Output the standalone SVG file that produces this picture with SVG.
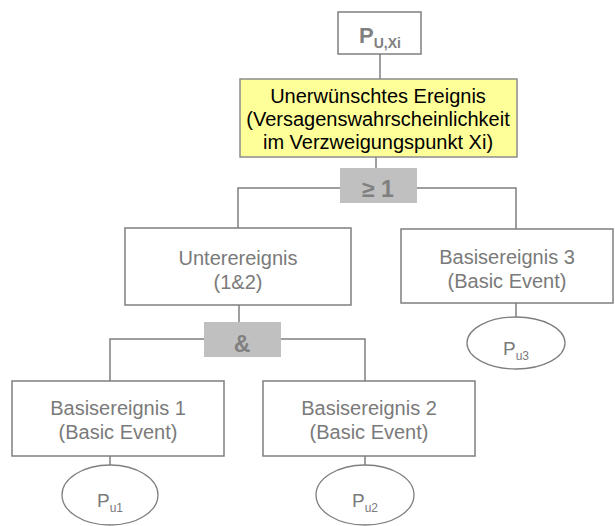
<svg xmlns="http://www.w3.org/2000/svg" width="615" height="526" viewBox="0 0 615 526">
<style>
.box{fill:#ffffff;stroke:#7f7f7f;stroke-width:1.5}
.yel{fill:#ffff99;stroke:#8c8c8c;stroke-width:1.5}
.gate{fill:#c0c0c0;stroke:none}
.ell{fill:#ffffff;stroke:#7f7f7f;stroke-width:1.3}
.ln{fill:none;stroke:#7f7f7f;stroke-width:1.5}
text{font-family:"Liberation Sans",Arial,sans-serif;text-anchor:middle}
.t{font-size:20px;fill:#7a7a7a}
.tb{font-size:20px;fill:#000000}
.g{font-size:23px;font-weight:bold;fill:#808080}
.p{font-size:19px;fill:#7a7a7a}
.sub{font-size:12px}
</style>
<rect width="615" height="526" fill="#ffffff"/>
<g id="connectors">
<path class="ln" d="M380,54 V79"/>
<path class="ln" d="M376,157 V168"/>
<path class="ln" d="M238,228 V188 H340 M417,188 H516 V229"/>
<path class="ln" d="M239,305 V322"/>
<path class="ln" d="M110,381 V339 H204 M281,339 H365 V381"/>
<path class="ln" d="M516,303 V317"/>
<path class="ln" d="M110,456 V465"/>
<path class="ln" d="M365,456 V465"/>
</g>
<g id="top">
<rect class="box" x="338" y="12" width="83" height="42"/>
<text x="380" y="43" style="font-size:22px;font-weight:bold;fill:#808080">P<tspan dy="5" style="font-size:14px">U,Xi</tspan></text>
</g>
<g id="event">
<rect class="yel" x="240" y="79" width="277" height="78"/>
<text class="tb" x="378" y="103">Unerwünschtes Ereignis</text>
<text class="tb" x="378" y="126">(Versagenswahrscheinlichkeit</text>
<text class="tb" x="378" y="149">im Verzweigungspunkt Xi)</text>
</g>
<g id="gate-or">
<rect class="gate" x="340" y="168" width="77" height="35"/>
<text class="g" x="378" y="197">≥ 1</text>
</g>
<g id="sub-event">
<rect class="box" x="125" y="228" width="226" height="77"/>
<text class="t" x="238" y="265">Unterereignis</text>
<text class="t" x="238" y="289">(1&amp;2)</text>
</g>
<g id="basic3">
<rect class="box" x="401" y="229" width="212" height="74"/>
<text class="t" x="507" y="264">Basisereignis 3</text>
<text class="t" x="507" y="288">(Basic Event)</text>
</g>
<g id="gate-and">
<rect class="gate" x="204" y="322" width="77" height="35"/>
<text class="g" x="242" y="352">&amp;</text>
</g>
<g id="pu3">
<ellipse class="ell" cx="516" cy="343" rx="49" ry="26"/>
<text class="p" x="516" y="355">P<tspan class="sub" dy="5">u3</tspan></text>
</g>
<g id="basic1">
<rect class="box" x="12" y="381" width="212" height="75"/>
<text class="t" x="118" y="415">Basisereignis 1</text>
<text class="t" x="118" y="439">(Basic Event)</text>
</g>
<g id="basic2">
<rect class="box" x="263" y="381" width="212" height="75"/>
<text class="t" x="369" y="415">Basisereignis 2</text>
<text class="t" x="369" y="439">(Basic Event)</text>
</g>
<g id="pu1">
<ellipse class="ell" cx="110" cy="495" rx="48" ry="30"/>
<text class="p" x="110" y="507">P<tspan class="sub" dy="5">u1</tspan></text>
</g>
<g id="pu2">
<ellipse class="ell" cx="365" cy="495" rx="49" ry="30"/>
<text class="p" x="365" y="507">P<tspan class="sub" dy="5">u2</tspan></text>
</g>
</svg>
